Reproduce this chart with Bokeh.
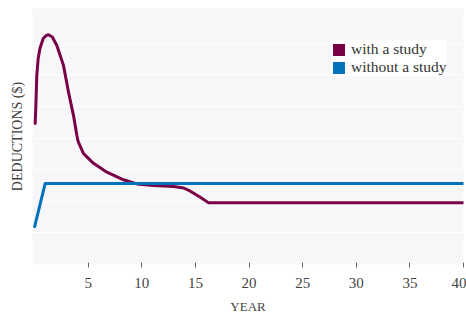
from bokeh.plotting import figure
from bokeh.models import FixedTicker, Legend, LegendItem, Range1d
from bokeh.embed import file_html
from bokeh.resources import INLINE

# ---- data ----
years_with = [0.05, 0.11, 0.2, 0.33, 0.5, 0.8, 1.05, 1.29, 1.65, 2.07, 2.69, 3.16, 3.62,
              3.94, 4.06, 4.56, 5.49, 6.74, 8.29, 9.54, 11.07, 12.96, 13.9, 14.52, 15.45,
              16.23, 40.0]
deductions_with = [4.46, 4.97, 5.98, 6.52, 6.84, 7.15, 7.24, 7.27, 7.2, 6.93, 6.30, 5.45, 4.72,
                   4.08, 3.89, 3.51, 3.20, 2.92, 2.68, 2.55, 2.50, 2.47, 2.42, 2.32, 2.13,
                   1.95, 1.95]

years_without = [0.0, 0.98, 40.0]
deductions_without = [1.2, 2.56, 2.56]

x_ticks = [5, 10, 15, 20, 25, 30, 35, 40]
grid_levels = [1, 2, 3, 4, 5, 6, 7]

series_names = ["with a study", "without a study"]
series_colors = ["#7A0046", "#0071BB"]
series_x = [years_with, years_without]
series_y = [deductions_with, deductions_without]

FONT = "Liberation Serif"

p = figure(width=466, height=316, output_backend="svg", toolbar_location=None,
           x_range=Range1d(-0.2, 40), y_range=Range1d(0, 8.1),
           min_border_left=32, min_border_right=3, min_border_top=8, min_border_bottom=52)

p.background_fill_color = "#F7F7FA"
p.border_fill_color = "white"
p.outline_line_color = None

# grid
p.xgrid.grid_line_color = None
p.ygrid.ticker = FixedTicker(ticks=grid_levels)
p.ygrid.grid_line_color = "white"
p.ygrid.grid_line_width = 1.2

# x axis
p.xaxis.ticker = FixedTicker(ticks=x_ticks)
p.xaxis.axis_line_color = None
p.xaxis.major_tick_in = 2
p.xaxis.major_tick_out = 3
p.xaxis.major_tick_line_color = "#666666"
p.xaxis.minor_tick_line_color = None
p.xaxis.major_label_text_font = FONT
p.xaxis.major_label_text_font_size = "15px"
p.xaxis.major_label_text_color = "#444444"
p.xaxis.major_label_standoff = 10
p.xaxis.axis_label = "YEAR"
p.xaxis.axis_label_text_font = FONT
p.xaxis.axis_label_text_font_style = "normal"
p.xaxis.axis_label_text_font_size = "13px"
p.xaxis.axis_label_text_color = "#444444"
p.xaxis.axis_label_standoff = 8

# y axis (title only)
p.yaxis.ticker = FixedTicker(ticks=[])
p.yaxis.axis_line_color = None
p.yaxis.major_tick_line_color = None
p.yaxis.minor_tick_line_color = None
p.yaxis.axis_label = "DEDUCTIONS ($)"
p.yaxis.axis_label_text_font = FONT
p.yaxis.axis_label_text_font_style = "normal"
p.yaxis.axis_label_text_font_size = "14px"
p.yaxis.axis_label_text_color = "#444444"
p.yaxis.axis_label_standoff = 8

# lines
for xs, ys, c in zip(series_x, series_y, series_colors):
    p.line(xs, ys, line_color=c, line_width=3, line_join="round", line_cap="round")

# legend swatches: zero-area quads at each series' first point (invisible in plot)
swatches = []
for xs, ys, c in zip(series_x, series_y, series_colors):
    r = p.quad(left=xs[:1], right=xs[:1], top=ys[:1], bottom=ys[:1],
               fill_color=c, line_color=None)
    swatches.append(r)

legend = Legend(items=[LegendItem(label=n, renderers=[r]) for n, r in zip(series_names, swatches)],
                location=(299, 188))
legend.glyph_width = 15
legend.glyph_height = 15
legend.label_height = 15
legend.spacing = 0
legend.padding = 8
legend.label_standoff = 5
legend.label_text_font = FONT
legend.label_text_font_size = "15.5px"
legend.label_text_color = "#333333"
legend.background_fill_color = "white"
legend.background_fill_alpha = 1.0
legend.border_line_color = None
p.add_layout(legend, "center")

open("out.html", "w").write(file_html(p, INLINE))
